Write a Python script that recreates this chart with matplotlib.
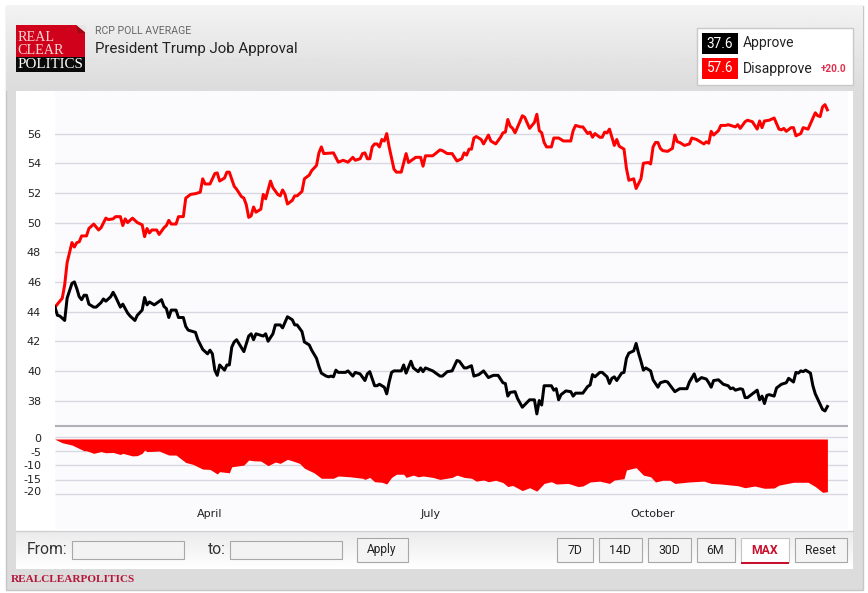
import numpy as np
import matplotlib
matplotlib.use('Agg')
import matplotlib.pyplot as plt
from matplotlib.patches import Rectangle, Polygon

W, H = 868, 593

# days counted from the first poll average (27 Jan)
disapprove_days = [0, 3, 4, 5, 7, 8, 9, 10, 11, 13, 14, 16, 18, 19, 21, 22, 24, 25, 27, 28, 29, 30, 32, 34, 36, 37, 38, 39, 40, 42, 43, 45, 46, 47, 48, 50, 51, 53, 54, 56, 58, 60, 61, 62, 64, 66, 67, 68, 70, 71, 72, 74, 75, 77, 78, 79, 80, 81, 82, 83, 85, 86, 87, 89, 90, 92, 93, 94, 95, 96, 98, 99, 100, 102, 103, 105, 106, 108, 109, 110, 111, 115, 117, 119, 121, 123, 124, 126, 127, 128, 129, 130, 131, 132, 133, 134, 135, 136, 137, 138, 140, 141, 143, 145, 146, 149, 151, 152, 153, 156, 159, 160, 162, 164, 166, 168, 169, 170, 171, 172, 173, 174, 176, 177, 179, 180, 182, 184, 185, 186, 187, 188, 189, 190, 192, 193, 194, 196, 198, 199, 200, 201, 202, 203, 205, 206, 208, 210, 213, 214, 215, 217, 218, 220, 221, 222, 223, 225, 226, 227, 228, 229, 231, 232, 233, 235, 236, 237, 239, 240, 242, 243, 245, 246, 247, 248, 249, 250, 251, 253, 255, 256, 257, 258, 260, 262, 263, 265, 268, 269, 270, 271, 272, 274, 275, 277, 278, 281, 282, 283, 285, 286, 288, 290, 291, 292, 293, 295, 297, 299, 300, 301, 302, 304, 305, 306, 308, 309, 311, 314, 315, 316, 317, 318, 319]
disapprove = [44.3, 44.9, 45.8, 47.3, 48.65, 48.35, 48.65, 48.7, 49.1, 49.1, 49.6, 49.9, 49.5, 49.65, 50.3, 50.2, 50.25, 50.4, 50.4, 49.8, 50.25, 50.0, 50.3, 50.0, 49.85, 49.05, 49.6, 49.3, 49.5, 49.5, 49.2, 49.65, 49.8, 50.15, 49.9, 49.9, 50.4, 50.4, 51.65, 51.9, 51.95, 52.05, 52.95, 52.6, 52.6, 53.3, 53.35, 52.8, 53.0, 53.4, 53.4, 52.45, 52.25, 51.75, 51.65, 51.2, 50.35, 50.45, 51.05, 50.7, 50.9, 51.9, 51.6, 52.8, 52.35, 51.9, 51.8, 52.2, 51.9, 51.25, 51.5, 51.8, 51.8, 52.1, 52.95, 53.2, 53.5, 53.85, 54.7, 55.1, 54.65, 54.7, 54.07, 54.2, 54.07, 54.4, 54.2, 54.3, 54.65, 54.7, 54.3, 54.3, 55.1, 55.3, 55.3, 55.1, 55.6, 55.5, 56.0, 55.1, 53.6, 53.4, 53.4, 54.65, 54.05, 54.4, 54.4, 53.8, 54.5, 54.5, 54.9, 54.85, 54.65, 54.65, 54.15, 54.3, 54.7, 54.55, 54.95, 54.95, 55.7, 55.8, 55.6, 55.3, 55.9, 55.5, 55.3, 55.75, 56.05, 56.1, 56.95, 56.5, 56.35, 56.05, 56.8, 57.2, 57.1, 56.35, 56.75, 57.3, 56.2, 56.05, 55.4, 55.1, 55.1, 55.7, 55.7, 55.5, 55.5, 56.2, 56.55, 56.45, 56.45, 56.0, 56.1, 55.75, 56.0, 55.75, 55.75, 56.1, 56.05, 56.3, 55.2, 55.6, 55.15, 54.95, 53.65, 52.85, 52.95, 52.3, 52.95, 54.0, 54.05, 53.95, 55.1, 55.4, 55.4, 55.0, 54.85, 54.8, 55.0, 55.9, 55.45, 55.4, 55.2, 55.3, 55.7, 55.6, 55.3, 55.45, 55.35, 56.15, 55.9, 56.2, 56.55, 56.55, 56.6, 56.45, 56.6, 56.35, 56.8, 56.9, 56.8, 56.3, 56.85, 56.4, 56.85, 56.9, 57.05, 56.3, 56.25, 56.35, 56.15, 56.4, 56.4, 55.85, 56.0, 56.4, 56.3, 57.4, 57.2, 57.15, 57.8, 57.95, 57.6]

approve_days = [0, 1, 2, 4, 5, 7, 8, 9, 10, 11, 12, 13, 14, 16, 17, 19, 20, 21, 23, 24, 25, 27, 28, 30, 31, 33, 34, 36, 37, 38, 39, 41, 44, 45, 46, 47, 48, 50, 51, 53, 54, 55, 58, 59, 61, 63, 64, 65, 66, 67, 68, 70, 71, 72, 73, 74, 75, 78, 80, 81, 82, 83, 86, 87, 88, 90, 91, 93, 94, 96, 98, 99, 100, 102, 103, 105, 106, 108, 109, 110, 112, 113, 114, 115, 116, 117, 120, 121, 123, 124, 126, 128, 129, 130, 132, 133, 134, 136, 137, 138, 139, 140, 143, 144, 145, 147, 148, 150, 151, 152, 153, 156, 159, 160, 162, 164, 166, 167, 169, 170, 172, 173, 175, 177, 179, 181, 183, 185, 186, 187, 188, 190, 191, 193, 196, 198, 199, 200, 201, 202, 205, 206, 207, 208, 209, 211, 213, 214, 215, 218, 220, 221, 222, 223, 225, 226, 228, 229, 230, 231, 232, 234, 235, 236, 237, 239, 240, 241, 242, 243, 244, 246, 247, 249, 250, 252, 253, 256, 258, 261, 262, 264, 265, 267, 269, 270, 271, 272, 274, 276, 278, 279, 280, 281, 283, 284, 285, 286, 290, 291, 292, 293, 294, 295, 297, 298, 300, 302, 303, 305, 306, 307, 308, 309, 310, 312, 313, 314, 315, 317, 318, 319]
approve = [44.3, 43.75, 43.7, 43.4, 44.9, 45.9, 46.0, 45.55, 45.0, 44.8, 45.1, 45.1, 44.5, 44.3, 44.3, 44.6, 44.85, 44.7, 45.0, 45.3, 45.0, 44.3, 44.5, 43.9, 43.7, 43.4, 43.75, 44.1, 44.95, 44.45, 44.65, 44.45, 44.8, 44.35, 44.2, 43.6, 44.1, 44.1, 43.6, 43.6, 43.0, 42.75, 42.6, 42.1, 41.45, 41.15, 41.4, 41.15, 40.05, 39.7, 40.4, 40.05, 40.4, 40.4, 41.6, 41.95, 42.1, 41.3, 42.35, 42.5, 42.1, 42.5, 42.35, 42.5, 42.0, 42.5, 43.1, 43.1, 42.9, 43.65, 43.45, 43.1, 43.1, 42.65, 41.95, 41.75, 41.4, 40.85, 40.3, 39.85, 39.65, 39.6, 39.65, 39.6, 40.05, 39.9, 39.9, 40.0, 39.65, 39.9, 39.8, 39.35, 39.8, 39.95, 39.0, 39.0, 39.1, 38.9, 38.45, 39.25, 39.9, 40.0, 40.0, 40.4, 39.85, 40.65, 40.2, 39.95, 40.2, 39.95, 40.2, 40.0, 39.65, 39.65, 39.95, 40.0, 40.7, 40.65, 40.2, 40.2, 40.35, 39.65, 39.75, 40.0, 39.55, 39.7, 39.7, 39.2, 39.15, 38.3, 38.55, 38.6, 38.15, 37.55, 38.05, 38.05, 37.1, 38.0, 37.7, 39.0, 39.0, 38.7, 38.8, 38.05, 38.4, 38.65, 38.6, 38.3, 38.5, 38.5, 38.95, 39.05, 39.75, 39.6, 39.9, 39.9, 39.6, 39.15, 39.5, 39.6, 39.35, 39.85, 39.9, 40.85, 41.2, 41.35, 41.85, 41.2, 40.65, 40.05, 40.2, 40.0, 39.4, 38.9, 39.2, 39.3, 39.25, 38.6, 38.8, 38.8, 39.25, 39.8, 39.3, 39.55, 39.45, 39.2, 38.9, 39.35, 39.4, 39.1, 39.0, 38.8, 38.85, 38.7, 38.8, 38.75, 38.2, 38.2, 38.7, 38.05, 38.3, 37.8, 38.35, 38.4, 38.3, 38.85, 39.1, 39.2, 39.5, 39.25, 39.9, 39.85, 40.0, 39.95, 40.05, 39.85, 39.0, 38.45, 38.1, 37.4, 37.3, 37.6]

spread_days = [0, 3, 7, 10, 12, 13, 16, 19, 21, 24, 27, 28, 32, 34, 36, 37, 38, 43, 47, 50, 54, 57, 61, 64, 67, 68, 72, 73, 78, 80, 82, 85, 88, 91, 93, 96, 99, 101, 103, 107, 110, 115, 117, 122, 127, 128, 130, 132, 135, 137, 139, 141, 144, 145, 148, 150, 152, 156, 159, 164, 166, 169, 172, 174, 177, 179, 182, 185, 187, 189, 193, 196, 199, 202, 205, 207, 212, 216, 218, 221, 225, 229, 231, 235, 236, 240, 243, 246, 248, 251, 254, 256, 262, 268, 271, 275, 282, 285, 289, 293, 297, 299, 305, 311, 314, 317, 319]
spread = [-0.9, -2.1, -2.9, -4.1, -4.9, -4.9, -5.8, -5.2, -5.6, -5.5, -6.2, -5.8, -6.7, -6.6, -5.8, -4.65, -5.2, -5.0, -6.4, -6.4, -9.0, -9.65, -11.3, -11.4, -13.0, -12.2, -12.6, -10.5, -9.9, -8.15, -8.4, -8.5, -10.1, -8.85, -9.3, -7.9, -8.7, -9.3, -11.0, -12.6, -14.5, -14.5, -13.7, -14.0, -14.5, -14.9, -14.2, -15.7, -15.9, -16.5, -14.2, -13.1, -13.1, -14.2, -13.4, -14.0, -13.7, -14.2, -14.9, -14.2, -13.4, -14.2, -14.5, -15.5, -15.1, -15.7, -15.2, -16.0, -17.4, -17.0, -18.8, -17.8, -19.0, -16.3, -15.7, -16.5, -16.3, -17.4, -17.2, -15.8, -15.5, -16.3, -15.1, -14.65, -11.6, -10.8, -13.4, -14.0, -15.8, -15.2, -15.2, -16.3, -15.8, -15.5, -16.3, -16.5, -17.1, -17.8, -17.2, -18.0, -17.9, -16.9, -15.9, -15.9, -17.4, -19.4, -19.2]

month_days = [64, 155, 247]
month_labels = ['April', 'July', 'October']
main_ticks = [38, 40, 42, 44, 46, 48, 50, 52, 54, 56]
spread_ticks = [0, -5, -10, -15, -20]
spread_tick_labels = ['0', '-5', '-10', '-15', '-20']
range_buttons = ['7D', '14D', '30D', '6M', 'MAX', 'Reset']

PLOT_BG = '#fbfbfe'
GRID = '#d8d8e0'
RED = '#ff0000'


def frect(ax, x0, y0, x1, y1, fc, ec='none', lw=0.8, z=1):
    ax.add_patch(Rectangle((x0, y0), x1 - x0, y1 - y0, facecolor=fc, edgecolor=ec, linewidth=lw, zorder=z))


def vgrad(ax, x0, y0, x1, y1, top, bottom, z=1):
    g = np.linspace(top, bottom, 64).reshape(-1, 1)
    ax.imshow(g, extent=(x0, x1, y1, y0), aspect='auto', cmap='gray', vmin=0, vmax=1, zorder=z, interpolation='bilinear')


def pos(x0, y0, x1, y1):
    return [x0 / W, 1 - y1 / H, (x1 - x0) / W, (y1 - y0) / H]


fig = plt.figure(figsize=(W / 100, H / 100), dpi=100, facecolor='white')

# page furniture, drawn in pixel coordinates
bg = fig.add_axes([0, 0, 1, 1])
bg.set_axis_off()
frect(bg, 5.5, 5.5, 863, 589.5, '#dcdcdc', ec='#c6c6c6', lw=1.0)
vgrad(bg, 6, 6, 863, 91, 0.95, 0.86, z=2)
frect(bg, 16, 91, 852.5, 531, 'white', z=3)
vgrad(bg, 16, 531.5, 852.5, 569, 0.92, 1.0, z=3)
bg.plot([16, 852.5], [531, 531], color='#cfcfcf', lw=1.0, zorder=4)
bg.set_xlim(0, W)
bg.set_ylim(H, 0)

# logo
frect(bg, 16, 25, 85, 57, '#d0021b', z=4)
frect(bg, 16, 57, 85, 72, '#0a0a0a', z=4)
bg.add_patch(Polygon([[76, 24.5], [85.5, 24.5], [85.5, 33]], facecolor='#e6e6e6', edgecolor='none', zorder=5))
bg.add_patch(Polygon([[76, 25], [85, 33], [78, 33]], facecolor='#9c0a18', edgecolor='none', zorder=5))
serif = 'Liberation Serif'
bg.text(17.5, 37.5, 'REAL', family=serif, fontsize=10.2, color='#f7d5d5', va='center', zorder=6)
bg.text(17.5, 50.5, 'CLEAR', family=serif, fontsize=10.2, color='#f7d5d5', va='center', zorder=6)
bg.text(17.5, 64.5, 'POLITICS', family=serif, fontsize=10.8, color='white', va='center', zorder=6)

bg.text(95, 31, 'RCP POLL AVERAGE', family='Roboto', fontsize=7.6, color='#666666', va='center', zorder=6)
bg.text(95, 49, 'President Trump Job Approval', family='Roboto', fontsize=10.8, color='#222222', va='center', zorder=6)

# legend box
frect(bg, 697, 27.5, 852.5, 84.5, 'white', ec='#c8c8c8', lw=1.0, z=4)
frect(bg, 702, 33, 738, 54, 'black', z=5)
frect(bg, 702, 58, 738, 79, RED, z=5)
bg.text(720, 43.5, '37.6', family='Roboto', fontsize=9.8, color='white', ha='center', va='center', zorder=6)
bg.text(720, 68.5, '57.6', family='Roboto', fontsize=9.8, color='white', ha='center', va='center', zorder=6)
bg.text(743, 43.5, 'Approve', family='Roboto', fontsize=10, color='#222222', va='center', zorder=6)
bg.text(743, 68.5, 'Disapprove', family='Roboto', fontsize=10, color='#222222', va='center', zorder=6)
bg.text(821, 69.5, '+20.0', family='Roboto', fontsize=7.2, fontweight='bold', color='#e0304e', va='center', zorder=6)

# date range controls
bg.text(27, 549, 'From:', family='Roboto', fontsize=11.3, color='#333333', va='center', zorder=6)
bg.text(208, 549, 'to:', family='Roboto', fontsize=11.3, color='#333333', va='center', zorder=6)
frect(bg, 72, 540.5, 184, 558.5, '#f3f3f3', ec='#a8a8a8', z=5)
frect(bg, 230, 540.5, 342, 558.5, '#f3f3f3', ec='#a8a8a8', z=5)
frect(bg, 356.5, 537.5, 407.5, 562, '#f4f4f4', ec='#a8a8a8', z=5)
bg.text(382, 550, 'Apply', family='Roboto', fontsize=8.6, color='#222222', ha='center', va='center', zorder=6)

button_left = [556.5, 598.5, 647.5, 696.5, 740.5, 794.5]
button_right = [592.5, 641.5, 690.5, 734.5, 788.5, 846.5]
for name, x0, x1 in zip(range_buttons, button_left, button_right):
    active = name == 'MAX'
    frect(bg, x0, 537.5, x1, 562, 'white' if active else '#f4f4f4', ec='#c4c4c4' if active else '#a8a8a8', z=5)
    bg.text((x0 + x1) / 2, 550, name, family='Roboto', fontsize=8.8, ha='center', va='center', zorder=6,
            color='#c8102e' if active else '#222222', fontweight='bold' if active else 'normal')
    if active:
        frect(bg, x0, 562, x1, 564, '#c8102e', z=6)

bg.text(11, 580, 'REALCLEARPOLITICS', family=serif, fontsize=8.1, fontweight='bold', color='#b5173a', va='center', zorder=6)

# approve / disapprove lines
xlim = (0, 327.3)
ax = fig.add_axes(pos(55, 91, 847.5, 424))
ax.set_facecolor(PLOT_BG)
ax.plot(disapprove_days, disapprove, color=RED, lw=2.15, zorder=3)
ax.plot(approve_days, approve, color='black', lw=2.15, zorder=3)
ax.set_xlim(*xlim)
ax.set_ylim(36.42, 58.87)
ax.set_xticks([])
ax.set_yticks(main_ticks)
ax.grid(axis='y', color=GRID, lw=1.0, zorder=1)
ax.tick_params(axis='y', length=0, pad=10, labelsize=8, labelcolor='#222222')
for s in ax.spines.values():
    s.set_visible(False)

# spread panel
ax2 = fig.add_axes(pos(55, 424, 847.5, 531))
ax2.set_facecolor(PLOT_BG)
ax2.fill_between(spread_days, spread, -0.8, color=RED, lw=0, zorder=3)
ax2.hlines(spread_ticks, xlim[0], xlim[1], color=GRID, lw=1.0, zorder=1)
ax2.axhline(3.73, color='#b0b0b8', lw=1.5, zorder=2)
ax2.set_xlim(*xlim)
ax2.set_ylim(-32.9, 4.43)
ax2.set_xticks([])
# the labels sit a little off their gridlines in the original
ax2.set_yticks([-0.45, -5.35, -10, -14.7, -19.1])
ax2.set_yticklabels(spread_tick_labels)
ax2.tick_params(axis='y', length=0, pad=10, labelsize=8, labelcolor='#222222')
for d, name in zip(month_days, month_labels):
    ax2.text(d, -27, name, fontsize=8, color='#222222', ha='center', va='center')
for s in ax2.spines.values():
    s.set_visible(False)

fig.savefig('out.png', dpi=100)
